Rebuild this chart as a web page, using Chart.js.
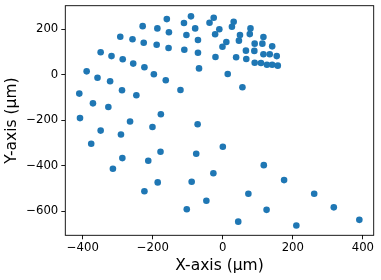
<!DOCTYPE html>
<html>
<head>
<meta charset="utf-8">
<script src="https://cdn.jsdelivr.net/npm/chart.js@4"></script>
<style>
  html, body { margin: 0; padding: 0; background: #fff; }
  #wrap { width: 381px; height: 280px; }
</style>
</head>
<body>
<div id="wrap"><canvas id="scatterChart" width="381" height="280"></canvas></div>
<script>
// point positions (micrometres)
const xValues = [
  -160, -91, -111, -79, -229, -187, -154, -293, -258, -226,
  -189, -104, -71, -155, -110, -71, -349, -318, -286, -256,
  -224, -68, -389, -358, -322, -197, -163, -121, -410, -288,
  -247, -371, -327, -408, -177, -265, -201, -349, -291, -72,
  -26, -38, 31, 26, -10, -22, 79, 77, 49, 46,
  116, 10, -1, 91, 113, 141, 66, 90, -21, 38,
  67, 116, 134, 154, 91, 109, 126, 141, 157, 14,
  56, -376, -287, -178, -76, -314, -213, -186, -89, -224,
  -103, 0, 117, -27, 175, 73, -47, 261, 125, 317,
  44, 210, 390
];
const yValues = [
  245, 257, 228, 204, 214, 204, 187, 167, 156, 141,
  132, 175, 153, 118, 110, 97, 99, 82, 68, 49,
  33, 28, 15, -13, -29, 2, -24, -67, -83, -68,
  -90, -126, -142, -191, -174, -206, -230, -246, -263, -218,
  251, 229, 233, 211, 200, 178, 204, 179, 175, 150,
  166, 144, 123, 137, 137, 125, 106, 105, 78, 77,
  69, 90, 90, 82, 53, 52, 44, 44, 40, 3,
  -55, -304, -367, -339, -348, -414, -379, -474, -471, -513,
  -592, -317, -398, -434, -464, -524, -555, -524, -595, -584,
  -647, -664, -639
];
const xTicks = [-400, -200, 0, 200, 400];
const yTicks = [-600, -400, -200, 0, 200];

const points = xValues.map((x, i) => ({ x: x, y: yValues[i] }));

const tickFont = { family: 'DejaVu Sans', size: 11.7 };
const titleFont = { family: 'DejaVu Sans', size: 15.5 };
const minusSign = v => String(v).replace('-', '\u2212');

// matplotlib-like frame round the plot area
const framePlugin = {
  id: 'frame',
  afterDraw(chart) {
    const { ctx, chartArea: a } = chart;
    ctx.save();
    ctx.strokeStyle = '#000';
    ctx.lineWidth = 0.9;
    ctx.strokeRect(a.left, a.top, a.right - a.left, a.bottom - a.top);
    ctx.restore();
  }
};

new Chart(document.getElementById('scatterChart'), {
  type: 'scatter',
  data: {
    datasets: [{
      data: points,
      backgroundColor: '#1f77b4',
      borderWidth: 0,
      pointRadius: 3.3
    }]
  },
  options: {
    responsive: false,
    animation: false,
    layout: { padding: { top: 5.7, right: 7.3, left: 0, bottom: 0 } },
    plugins: { legend: { display: false }, tooltip: { enabled: false } },
    scales: {
      x: {
        type: 'linear',
        min: -450,
        max: 431,
        afterBuildTicks: s => { s.ticks = xTicks.map(v => ({ value: v })); },
        afterFit: s => { s.height = 44.7; s.paddingLeft = 0; s.paddingRight = 0; },
        ticks: { color: '#000', font: tickFont, padding: 2, maxRotation: 0, callback: minusSign },
        grid: { drawOnChartArea: false, drawTicks: true, tickLength: 4, color: '#000', lineWidth: 0.9 },
        border: { display: false },
        title: { display: true, text: 'X-axis (\u03bcm)', color: '#000', font: titleFont, padding: { top: 0, bottom: 5 } }
      },
      y: {
        type: 'linear',
        min: -707,
        max: 304,
        afterBuildTicks: s => { s.ticks = yTicks.map(v => ({ value: v })); },
        afterFit: s => { s.width = 65.3; s.paddingTop = 0; s.paddingBottom = 0; },
        ticks: { color: '#000', font: tickFont, padding: 3, callback: minusSign },
        grid: { drawOnChartArea: false, drawTicks: true, tickLength: 4, color: '#000', lineWidth: 0.9 },
        border: { display: false },
        title: { display: true, text: 'Y-axis (\u03bcm)', color: '#000', font: titleFont, padding: { top: 3, bottom: 0 } }
      }
    }
  },
  plugins: [framePlugin]
});
</script>
</body>
</html>
